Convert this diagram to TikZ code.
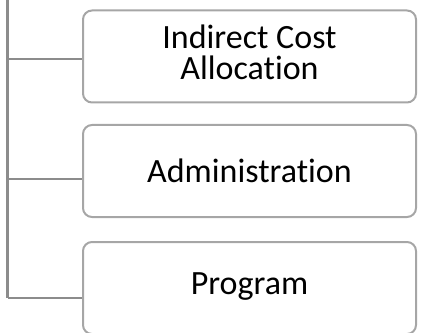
\documentclass[tikz,border=0pt]{standalone}
\usepackage{fontspec}
\setmainfont[Ligatures={NoCommon}]{Carlito}
\definecolor{boxgray}{HTML}{A6A6A6}
\definecolor{linegray}{HTML}{8C8C8C}
\begin{document}
\begin{tikzpicture}[x=1pt,y=1pt,
  item/.style={draw=boxgray, line width=2pt, rounded corners=9pt,
    minimum width=333pt, minimum height=92pt, inner sep=0pt},
  lbl/.style={align=center, inner sep=0pt,
    font=\fontsize{34}{31}\selectfont, text=black},
  conn/.style={draw=linegray, line width=2.2pt}]
\useasboundingbox (0,0) rectangle (422,332);
\clip (0,0) rectangle (422,332);
\node[item] (b1) at (249.5,275.5) {};
\node[lbl] (t1) at ([yshift=4pt]b1.center) {Indirect Cost\\Allocation};
\node[item] (b2) at (249.5,161) {};
\node[lbl] (t2) at (b2.center) {Administration};
\node[item] (b3) at (249.5,44) {};
\node[lbl] (t3) at ([yshift=1pt]b3.center) {Program};
\coordinate (top) at (7.5,340);
\coordinate (j1) at (7.5,273);
\coordinate (j2) at (7.5,153);
\coordinate (j3) at (7.5,34);
\draw[conn] (top) -- (j3);
\draw[conn] (j1) -- (j1 -| b1.west);
\draw[conn] (j2) -- (j2 -| b2.west);
\draw[conn] (j3) -- (j3 -| b3.west);
\end{tikzpicture}
\end{document}
